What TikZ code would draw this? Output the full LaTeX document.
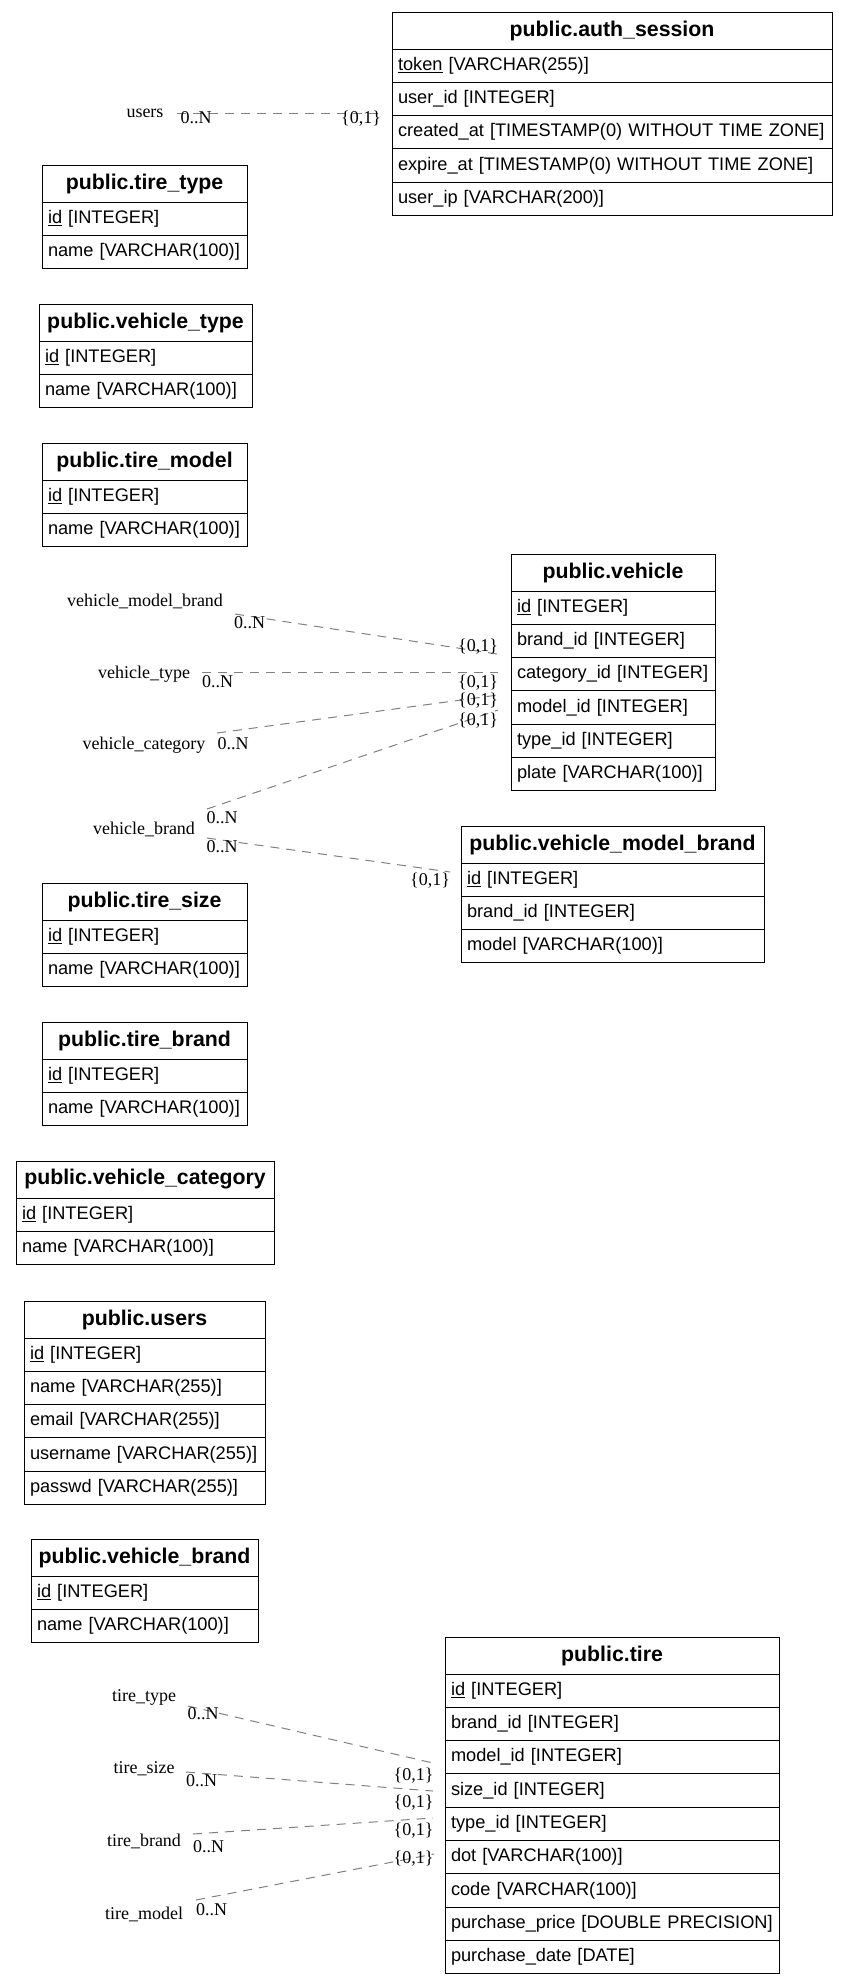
\documentclass[tikz,border=0pt]{standalone}
\usepackage{fontspec}
\setmainfont{Liberation Sans}
\newfontfamily\relfont{Liberation Serif}
\usetikzlibrary{positioning}

\begin{document}
\begin{tikzpicture}[x=1pt, y=-1pt, node distance=0pt,
    table title/.style={draw, line width=1pt, text width=#1, align=center, inner xsep=6pt, inner ysep=0pt, outer sep=0pt,
                        minimum height=37pt, anchor=north west, font=\fontsize{21.3}{24}\selectfont\bfseries},
    table field/.style={draw, line width=1pt, text width=#1, align=left, inner xsep=6pt, inner ysep=0pt, outer sep=0pt,
                        minimum height=33.3pt, font=\fontsize{18.2}{21}\selectfont},
    rel/.style={draw=gray, line width=1pt, dash pattern=on 9pt off 7pt},
    rel label/.style={anchor=base, inner sep=0pt, font=\relfont\fontsize{18}{20}\selectfont}]

    \useasboundingbox (0,0) rectangle (848,1984);

    % tables
    \node[table title=428pt] (auth) at (392,12) {public.auth\_session};
    \node[table field=428pt] (auth-1) [below=of auth]   {\underline{token} [VARCHAR(255)]};
    \node[table field=428pt] (auth-2) [below=of auth-1] {user\_id [INTEGER]};
    \node[table field=428pt] (auth-3) [below=of auth-2] {created\_at [TIMESTAMP(0) WITHOUT TIME ZONE]};
    \node[table field=428pt] (auth-4) [below=of auth-3] {expire\_at [TIMESTAMP(0) WITHOUT TIME ZONE]};
    \node[table field=428pt] (auth-5) [below=of auth-4] {user\_ip [VARCHAR(200)]};

    \node[table title=193pt] (ttype) at (42,165) {public.tire\_type};
    \node[table field=193pt] (ttype-1) [below=of ttype]   {\underline{id} [INTEGER]};
    \node[table field=193pt] (ttype-2) [below=of ttype-1] {name [VARCHAR(100)]};

    \node[table title=201pt] (vtype) at (39,304) {public.vehicle\_type};
    \node[table field=201pt] (vtype-1) [below=of vtype]   {\underline{id} [INTEGER]};
    \node[table field=201pt] (vtype-2) [below=of vtype-1] {name [VARCHAR(100)]};

    \node[table title=193pt] (tmodel) at (42,443) {public.tire\_model};
    \node[table field=193pt] (tmodel-1) [below=of tmodel]   {\underline{id} [INTEGER]};
    \node[table field=193pt] (tmodel-2) [below=of tmodel-1] {name [VARCHAR(100)]};

    \node[table title=192pt] (veh) at (511,554) {public.vehicle};
    \node[table field=192pt] (veh-1) [below=of veh]   {\underline{id} [INTEGER]};
    \node[table field=192pt] (veh-2) [below=of veh-1] {brand\_id [INTEGER]};
    \node[table field=192pt] (veh-3) [below=of veh-2] {category\_id [INTEGER]};
    \node[table field=192pt] (veh-4) [below=of veh-3] {model\_id [INTEGER]};
    \node[table field=192pt] (veh-5) [below=of veh-4] {type\_id [INTEGER]};
    \node[table field=192pt] (veh-6) [below=of veh-5] {plate [VARCHAR(100)]};

    \node[table title=291pt] (vmb) at (461,826) {public.vehicle\_model\_brand};
    \node[table field=291pt] (vmb-1) [below=of vmb]   {\underline{id} [INTEGER]};
    \node[table field=291pt] (vmb-2) [below=of vmb-1] {brand\_id [INTEGER]};
    \node[table field=291pt] (vmb-3) [below=of vmb-2] {model [VARCHAR(100)]};

    \node[table title=193pt] (tsize) at (42,883) {public.tire\_size};
    \node[table field=193pt] (tsize-1) [below=of tsize]   {\underline{id} [INTEGER]};
    \node[table field=193pt] (tsize-2) [below=of tsize-1] {name [VARCHAR(100)]};

    \node[table title=193pt] (tbrand) at (42,1022) {public.tire\_brand};
    \node[table field=193pt] (tbrand-1) [below=of tbrand]   {\underline{id} [INTEGER]};
    \node[table field=193pt] (tbrand-2) [below=of tbrand-1] {name [VARCHAR(100)]};

    \node[table title=246pt] (vcat) at (16,1161) {public.vehicle\_category};
    \node[table field=246pt] (vcat-1) [below=of vcat]   {\underline{id} [INTEGER]};
    \node[table field=246pt] (vcat-2) [below=of vcat-1] {name [VARCHAR(100)]};

    \node[table title=229pt] (users) at (24,1301) {public.users};
    \node[table field=229pt] (users-1) [below=of users]   {\underline{id} [INTEGER]};
    \node[table field=229pt] (users-2) [below=of users-1] {name [VARCHAR(255)]};
    \node[table field=229pt] (users-3) [below=of users-2] {email [VARCHAR(255)]};
    \node[table field=229pt] (users-4) [below=of users-3] {username [VARCHAR(255)]};
    \node[table field=229pt] (users-5) [below=of users-4] {passwd [VARCHAR(255)]};

    \node[table title=215pt] (vbrand) at (31,1539) {public.vehicle\_brand};
    \node[table field=215pt] (vbrand-1) [below=of vbrand]   {\underline{id} [INTEGER]};
    \node[table field=215pt] (vbrand-2) [below=of vbrand-1] {name [VARCHAR(100)]};

    \node[table title=322pt] (tire) at (445,1637) {public.tire};
    \node[table field=322pt] (tire-1) [below=of tire]   {\underline{id} [INTEGER]};
    \node[table field=322pt] (tire-2) [below=of tire-1] {brand\_id [INTEGER]};
    \node[table field=322pt] (tire-3) [below=of tire-2] {model\_id [INTEGER]};
    \node[table field=322pt] (tire-4) [below=of tire-3] {size\_id [INTEGER]};
    \node[table field=322pt] (tire-5) [below=of tire-4] {type\_id [INTEGER]};
    \node[table field=322pt] (tire-6) [below=of tire-5] {dot [VARCHAR(100)]};
    \node[table field=322pt] (tire-7) [below=of tire-6] {code [VARCHAR(100)]};
    \node[table field=322pt] (tire-8) [below=of tire-7] {purchase\_price [DOUBLE PRECISION]};
    \node[table field=322pt] (tire-9) [below=of tire-8] {purchase\_date [DATE]};

    % relation ends
    \coordinate (r1-t) at (177,113);  \coordinate (r1-h) at (380,113);
    \coordinate (r2-t) at (235,614);  \coordinate (r2-h) at (497,654);
    \coordinate (r3-t) at (202,672);  \coordinate (r3-h) at (498,672);
    \coordinate (r4-t) at (217,733);  \coordinate (r4-h) at (498,695);
    \coordinate (r5-t) at (207,809);  \coordinate (r5-h) at (498,710);
    \coordinate (r6-t) at (207,838);  \coordinate (r6-h) at (450,872);
    \coordinate (r7-t) at (188,1706); \coordinate (r7-h) at (433,1763);
    \coordinate (r8-t) at (186,1772); \coordinate (r8-h) at (433,1791);
    \coordinate (r9-t) at (193,1834); \coordinate (r9-h) at (433,1818);
    \coordinate (r10-t) at (196,1900); \coordinate (r10-h) at (434,1854);

    \path
    (r1-t) edge[rel] (r1-h)
    (r2-t) edge[rel] (r2-h)
    (r3-t) edge[rel] (r3-h)
    (r4-t) edge[rel] (r4-h)
    (r5-t) edge[rel] (r5-h)
    (r6-t) edge[rel] (r6-h)
    (r7-t) edge[rel] (r7-h)
    (r8-t) edge[rel] (r8-h)
    (r9-t) edge[rel] (r9-h)
    (r10-t) edge[rel] (r10-h);

    % relation labels
    \node[rel label] (r1-name) at (145,117) {users};
    \node[rel label] (r1-many) at (196,123) {0..N};
    \node[rel label] (r1-one)  at (361,123) {\{0,1\}};

    \node[rel label] (r2-name) at (145,606) {vehicle\_model\_brand};
    \node[rel label] (r2-many) at (249.5,628) {0..N};
    \node[rel label] (r2-one)  at (478,651) {\{0,1\}};

    \node[rel label] (r3-name) at (144,678) {vehicle\_type};
    \node[rel label] (r3-many) at (217.5,687) {0..N};
    \node[rel label] (r3-one)  at (478,687) {\{0,1\}};

    \node[rel label] (r4-name) at (144,749) {vehicle\_category};
    \node[rel label] (r4-many) at (233,749) {0..N};
    \node[rel label] (r4-one)  at (478,705) {\{0,1\}};

    \node[rel label] (r5-name) at (144,834) {vehicle\_brand};
    \node[rel label] (r5-many) at (222,823) {0..N};
    \node[rel label] (r5-one)  at (478,725) {\{0,1\}};
    \node[rel label] (r6-many) at (222,852) {0..N};
    \node[rel label] (r6-one)  at (430,885) {\{0,1\}};

    \node[rel label] (r7-name) at (144,1701) {tire\_type};
    \node[rel label] (r7-many) at (203,1719) {0..N};
    \node[rel label] (r7-one)  at (413.5,1780) {\{0,1\}};

    \node[rel label] (r8-name) at (144,1773) {tire\_size};
    \node[rel label] (r8-many) at (201.5,1786) {0..N};
    \node[rel label] (r8-one)  at (413.5,1807) {\{0,1\}};

    \node[rel label] (r9-name) at (144,1846) {tire\_brand};
    \node[rel label] (r9-many) at (208.5,1852) {0..N};
    \node[rel label] (r9-one)  at (413.5,1835) {\{0,1\}};

    \node[rel label] (r10-name) at (144,1919) {tire\_model};
    \node[rel label] (r10-many) at (211.5,1915) {0..N};
    \node[rel label] (r10-one)  at (413.5,1863) {\{0,1\}};
  \end{tikzpicture}
\end{document}
